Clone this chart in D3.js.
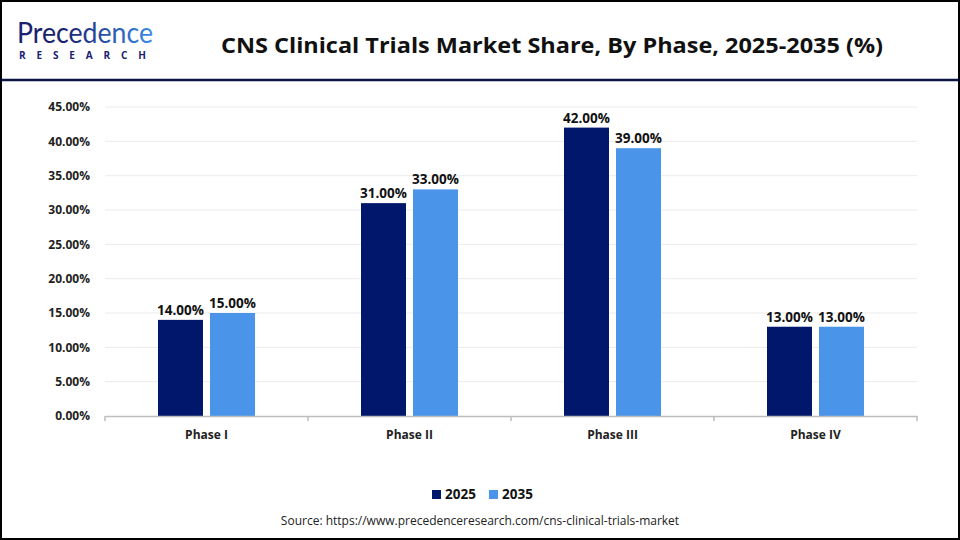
<!DOCTYPE html>
<html><head><meta charset="utf-8">
<script src="https://cdn.jsdelivr.net/npm/d3@7"></script>
<style>body{margin:0;background:#fff}svg{display:block}</style>
</head><body>
<svg id="c" width="960" height="540"></svg>
<script>
const categories = ["Phase I", "Phase II", "Phase III", "Phase IV"];
const seriesNames = ["2025", "2035"];
const values2025 = [14, 31, 42, 13];
const values2035 = [15, 33, 39, 13];
const yTicks = [0, 5, 10, 15, 20, 25, 30, 35, 40, 45];
const colors = ["#00176b", "#4a94ea"];
const titleText = "CNS Clinical Trials Market Share, By Phase, 2025-2035 (%)";
const sourceText = "Source: https://www.precedenceresearch.com/cns-clinical-trials-market";

const svg = d3.select("#c");
const font = "'Open Sans', 'Noto Sans', sans-serif";

// frame
svg.append("rect").attr("x",1).attr("y",1).attr("width",958).attr("height",538)
  .attr("fill","#fff").attr("stroke","#000").attr("stroke-width",2);
svg.append("line").attr("x1",1).attr("x2",959).attr("y1",80).attr("y2",80)
  .attr("stroke","#0b1445").attr("stroke-width",2.5);

// logo
const defs = svg.append("defs");
const g1 = defs.append("linearGradient").attr("id","lg").attr("x1","0").attr("x2","1");
g1.append("stop").attr("offset","0.35").attr("stop-color","#1a2270");
g1.append("stop").attr("offset","1").attr("stop-color","#3b8be8");
svg.append("text").attr("x",17).attr("y",43).attr("font-family","Lato, 'Open Sans', sans-serif")
  .attr("font-size",28).attr("fill","url(#lg)").attr("textLength",136).attr("lengthAdjust","spacingAndGlyphs")
  .text("Precedence");
svg.append("text").attr("x",19).attr("y",59).attr("font-family","'Open Sans', sans-serif")
  .attr("font-weight","bold").attr("font-size",10).attr("fill","#1a2270")
  .attr("textLength",127).attr("lengthAdjust","spacing").text("RESEARCH");

// title
svg.append("text").attr("x",552).attr("y",53).attr("text-anchor","middle")
  .attr("font-family",font).attr("font-weight","bold").attr("font-size",22).attr("fill","#111")
  .attr("textLength",662).attr("lengthAdjust","spacingAndGlyphs").text(titleText);

// scales
const x0 = d3.scaleBand().domain(categories).range([105, 917]);
const x1 = d3.scaleBand().domain(seriesNames).range([53, 150]).paddingInner(0.135);
const y = d3.scaleLinear().domain([0, 45]).range([416, 107]);

// grid
svg.append("g").selectAll("line").data(yTicks.filter(d=>d>0)).join("line")
  .attr("x1",105).attr("x2",917).attr("y1",d=>y(d)).attr("y2",d=>y(d))
  .attr("stroke","#ebebeb").attr("stroke-width",1);

// y axis labels
const yAxis = d3.axisLeft(y).tickValues(yTicks).tickFormat(d=>d.toFixed(2)+"%").tickSize(0).tickPadding(0);
const ya = svg.append("g").attr("transform","translate(90,0)").call(yAxis);
ya.select(".domain").remove();
ya.selectAll("text").attr("font-family",font).attr("font-weight","bold").attr("font-size",12).attr("fill","#222");

// bars
const data = categories.map((c,i)=>({c, vals:[{s:"2025",v:values2025[i]},{s:"2035",v:values2035[i]}]}));
const groups = svg.append("g").selectAll("g").data(data).join("g")
  .attr("transform",d=>`translate(${x0(d.c)},0)`);
groups.selectAll("rect").data(d=>d.vals).join("rect")
  .attr("x",d=>x1(d.s)).attr("width",x1.bandwidth())
  .attr("y",d=>y(d.v)).attr("height",d=>y(0)-y(d.v))
  .attr("fill",(d,i)=>colors[i]);
groups.selectAll("text").data(d=>d.vals).join("text")
  .attr("x",d=>x1(d.s)+x1.bandwidth()/2).attr("y",d=>y(d.v)-5)
  .attr("text-anchor","middle").attr("font-family",font).attr("font-weight","bold")
  .attr("font-size",13.5).attr("fill","#111").text(d=>d.v.toFixed(2)+"%");

// x axis
const xa = svg.append("g").attr("transform","translate(0,416)")
  .call(d3.axisBottom(x0).tickSize(0).tickPadding(14));
xa.select(".domain").attr("stroke","#bdbdbd").attr("stroke-width",1.5);
xa.selectAll("text").attr("font-family",font).attr("font-weight","bold").attr("font-size",12).attr("fill","#222");
const tickPos = categories.map(c=>x0(c)).concat([x0.range()[1]]);
xa.append("g").selectAll("line").data(tickPos).join("line")
  .attr("x1",d=>d).attr("x2",d=>d).attr("y1",0).attr("y2",5)
  .attr("stroke","#bdbdbd").attr("stroke-width",1.5);

// legend
const lg = svg.append("g");
const lx = [432, 489];
seriesNames.forEach((s,i)=>{
  lg.append("rect").attr("x",lx[i]).attr("y",490).attr("width",9).attr("height",9).attr("fill",colors[i]);
  lg.append("text").attr("x",lx[i]+13).attr("y",499).attr("font-family",font).attr("font-weight","bold")
    .attr("font-size",13.5).attr("fill","#111").text(s);
});

// source
svg.append("text").attr("x",480).attr("y",525).attr("text-anchor","middle")
  .attr("font-family",font).attr("font-size",12).attr("fill","#222").text(sourceText);
</script>
</body></html>
